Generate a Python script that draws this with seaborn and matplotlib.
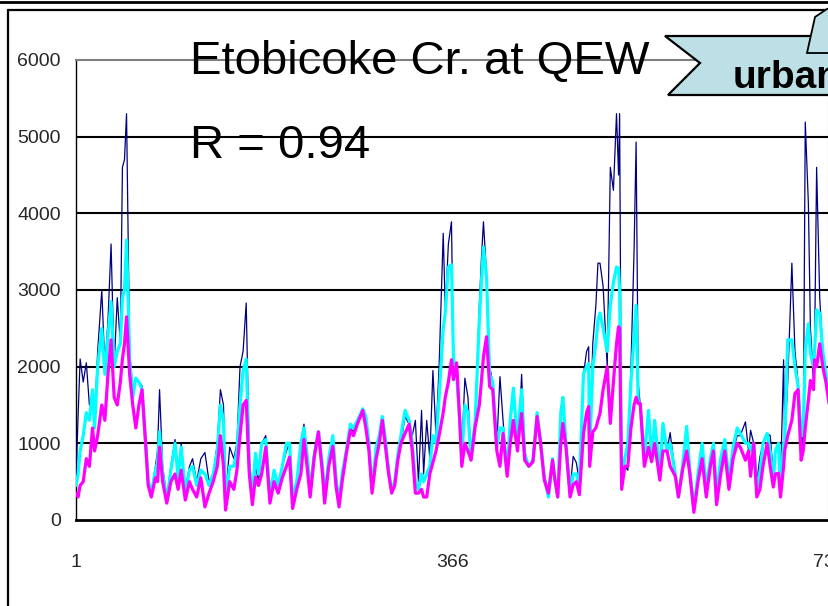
import numpy as np
import pandas as pd
import matplotlib
matplotlib.use("Agg")
import matplotlib.pyplot as plt
import matplotlib.patches as mpatches
from matplotlib.lines import Line2D
import seaborn as sns

days = [1,3,5,8,11,14,17,19,22,26,29,32,35,38,41,44,46,48,50,53,56,59,62,65,68,71,74,78,80,82,
        85,89,93,97,100,103,107,111,114,118,122,126,130,134,138,141,144,146,150,154,157,160,163,166,169,172,175,178,181,185,
        189,193,197,201,205,208,211,215,219,222,225,228,232,236,240,242,246,250,253,256,259,263,267,270,274,279,282,285,288,292,
        295,298,301,304,307,310,313,316,320,324,327,330,333,336,338,341,344,347,350,353,357,359,362,365,367,370,373,375,378,381,
        384,388,392,394,396,399,402,405,409,412,415,419,422,425,429,431,433,436,440,444,448,451,455,459,463,465,468,471,473,476,
        480,483,486,489,493,496,498,499,502,505,507,509,512,516,519,522,525,527,528,530,533,536,539,542,544,546,548,552,556,559,
        562,567,570,574,577,582,585,589,593,596,600,604,608,612,616,619,622,626,630,634,638,642,645,650,653,655,658,661,664,667,
        671,674,677,679,682,684,687,688,691,695,698,701,704,706,708,711,713,716,717,719,722,725,728,731]

flow_navy = [500,1350,2100,1800,2050,1500,1600,1300,2200,3000,2000,2600,3600,2000,2900,2300,4600,4700,5300,2200,1700,1850,1800,1750,1200,500,350,700,900,1700,
             700,300,700,1050,600,1000,400,700,800,500,800,880,500,600,1000,1700,1500,300,950,800,1000,2000,2200,2830,800,300,700,500,1000,1100,
             300,600,450,700,900,1000,350,500,1000,1250,800,450,900,1150,700,300,800,1100,600,250,600,900,1200,1150,1300,1400,1300,900,400,900,
             1100,1300,1000,650,400,500,800,1000,1350,1250,1100,1300,500,1430,600,1300,800,1950,1100,2000,3740,2740,3600,3890,2000,2000,1400,900,1850,1600,
             800,1300,2800,3400,3890,3200,2000,1800,1000,1870,1300,600,1200,1720,1000,1300,1900,900,700,800,1400,1050,600,350,800,550,300,1300,1600,1000,
             400,830,750,500,1900,2200,2260,900,2300,2800,3350,3350,3050,2000,4600,4300,5300,4500,5300,400,700,650,2000,3500,4930,1800,1500,800,1430,800,
             1300,600,1260,900,1140,600,300,700,1220,700,200,600,1000,400,800,1000,300,700,1000,500,900,1100,1100,1280,900,1170,1000,500,820,1000,
             1130,1100,600,900,1000,500,2090,1000,1800,3350,2200,1800,1200,900,5190,4130,2500,1800,2200,4600,2900,2200,1900,1600]

flow_cyan = [450,600,900,1100,1400,1300,1700,1200,2000,2500,1900,2400,2850,2000,2200,2300,2900,3000,3650,2100,1600,1850,1800,1700,1100,500,350,650,750,1150,
             600,250,650,1000,550,950,350,650,700,450,650,600,450,600,900,1500,1300,250,700,700,900,1500,1950,2100,700,300,870,600,1000,1050,
             300,650,450,700,1000,1000,250,500,1000,1200,850,400,850,1150,700,250,800,1100,550,200,600,900,1250,1200,1300,1450,1350,1000,400,950,
             1100,1350,1050,650,380,500,850,1100,1430,1300,1000,500,400,600,500,600,700,1100,1000,1600,2500,2700,3300,3330,2100,1900,1300,800,1500,1400,
             800,1300,2600,3100,3560,3170,1900,1800,950,1200,1200,600,1300,1720,1000,1400,1700,850,700,760,1400,1050,550,300,800,550,300,1400,1600,1000,
             350,600,600,450,1910,2000,2040,900,2000,2300,2600,2700,2500,2200,2800,3100,3300,3280,3000,500,800,1000,1800,2400,2800,1560,1500,800,1430,800,
             1300,600,1260,900,1000,600,300,700,1220,650,150,600,1000,400,800,1000,300,800,1050,500,950,1200,1130,1000,1000,900,1000,400,600,1000,
             1130,900,500,900,1000,400,1000,1000,2350,2350,2000,1750,1100,1100,2200,2560,2170,2000,2200,2740,2700,2200,1900,1600]

flow_magenta = [350,300,450,500,800,700,1200,900,1100,1500,1300,1900,2350,1600,1500,1800,2100,2300,2650,1900,1500,1200,1500,1700,1100,450,300,550,500,950,
                500,220,500,600,400,650,260,500,400,300,550,170,350,500,700,1100,700,130,500,400,650,1100,1500,1560,600,200,560,450,600,950,
                220,500,350,550,700,820,150,400,600,1050,700,300,820,1150,600,220,700,960,450,170,500,860,1170,1100,1260,1430,1200,900,350,800,
                1000,1300,950,610,350,450,780,1000,1130,1250,900,350,350,400,300,300,600,750,900,1100,1400,1600,1800,2090,1830,2050,1300,700,1000,900,
                780,1220,1500,1800,2130,2390,1740,1700,900,700,1130,570,1000,1300,900,1200,1390,780,700,760,1350,1050,520,350,780,550,300,1000,1260,950,
                300,460,500,330,1130,1400,1480,700,1150,1200,1300,1390,1700,2000,1260,1800,2300,2520,2500,400,700,700,1200,1500,1600,1520,1520,700,950,760,
                1000,520,900,900,700,570,300,650,900,610,100,500,800,300,700,900,200,600,900,400,800,1000,950,780,900,570,1000,300,400,700,
                1000,700,430,600,610,300,700,900,1100,1300,1650,1700,780,900,1200,1560,1820,1700,2090,2000,2300,2000,1800,1520]

y_ticks = [0, 1000, 2000, 3000, 4000, 5000, 6000]
x_ticks = [1, 366, 731]
title_text = "Etobicoke Cr. at QEW"
r_text = "R = 0.94"
badge_text = "urban"

df = pd.DataFrame({"day": days, "navy": flow_navy, "cyan": flow_cyan, "magenta": flow_magenta})

sns.set_style("white")
plt.rcParams["font.family"] = ["Liberation Sans", "DejaVu Sans"]

W, H = 829, 606
fig = plt.figure(figsize=(W / 100, H / 100), dpi=100)
fig.patch.set_facecolor("white")

def fx(px):
    return px / W

def fy(py):
    return 1 - py / H

ax = fig.add_axes([fx(76), fy(520), fx(829) - fx(76), fy(60) - fy(520)])
ax.set_facecolor("white")

sns.lineplot(data=df, x="day", y="navy", color="#000080", linewidth=0.9, ax=ax, zorder=3)
sns.lineplot(data=df, x="day", y="cyan", color="#00FFFF", linewidth=2.3, ax=ax, zorder=4)
sns.lineplot(data=df, x="day", y="magenta", color="#FF00FF", linewidth=2.3, ax=ax, zorder=5)

ax.set_xlim(1, 731)
ax.set_ylim(0, 6000)
ax.set_xticks(x_ticks)
ax.set_yticks(y_ticks)
ax.set_xlabel("")
ax.set_ylabel("")

for v in y_ticks[1:-1]:
    ax.axhline(v, color="black", linewidth=1.5, zorder=1)

for side in ["top", "right"]:
    ax.spines[side].set_visible(True)
    ax.spines[side].set_color("#808080")
    ax.spines[side].set_linewidth(1.5)
ax.spines["left"].set_color("black")
ax.spines["left"].set_linewidth(1.0)
ax.spines["bottom"].set_color("black")
ax.spines["bottom"].set_linewidth(2.0)
ax.spines["bottom"].set_zorder(6)

tick_font = {"family": ["Liberation Sans", "DejaVu Sans"], "size": 14}
ax.tick_params(axis="y", direction="out", length=4, width=1, color="black", pad=7)
ax.tick_params(axis="x", direction="out", length=4.5, width=1, color="black", pad=20)
ax.set_yticklabels([str(v) for v in y_ticks], fontdict=tick_font)
ax.set_xticklabels([str(v) for v in x_ticks], fontdict=tick_font)

# titles inside plot
fig.text(fx(190), fy(74), title_text, fontsize=34, color="black", va="baseline", ha="left", zorder=10)
fig.text(fx(190), fy(158), r_text, fontsize=34, color="black", va="baseline", ha="left", zorder=10)

# frame lines
fig.add_artist(Line2D([0, 1], [fy(2), fy(2)], transform=fig.transFigure, color="black", linewidth=2.0))
fig.add_artist(Line2D([fx(8), fx(840)], [fy(10), fy(10)], transform=fig.transFigure, color="black", linewidth=1.6))
fig.add_artist(Line2D([fx(8), fx(8)], [fy(10), fy(620)], transform=fig.transFigure, color="black", linewidth=1.6))

# callout shapes
fill_col = "#BCE0E5"
banner = mpatches.Polygon([(fx(665), fy(36)), (fx(840), fy(36)), (fx(840), fy(95)), (fx(668), fy(95)), (fx(700), fy(63))],
                          closed=True, transform=fig.transFigure, facecolor=fill_col, edgecolor="black", linewidth=1.6, zorder=8)
fig.add_artist(banner)
upper = mpatches.Polygon([(fx(807), fy(53)), (fx(815), fy(17)), (fx(827), fy(9)), (fx(840), fy(5)), (fx(840), fy(53))],
                         closed=True, transform=fig.transFigure, facecolor=fill_col, edgecolor="black", linewidth=1.3, zorder=9)
fig.add_artist(upper)
fig.text(fx(733), fy(88), badge_text, fontsize=28, fontweight="bold", color="black", va="baseline", ha="left", zorder=11)

fig.savefig("out.png", dpi=100, facecolor="white")
